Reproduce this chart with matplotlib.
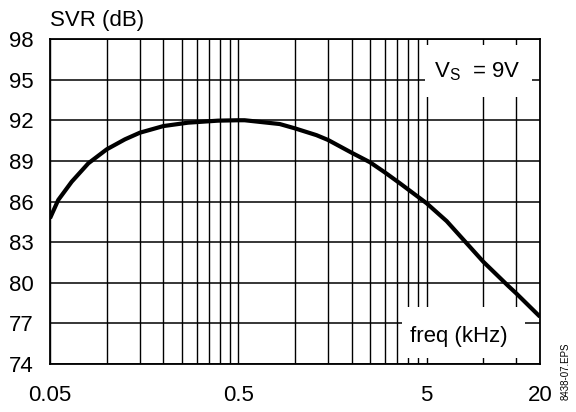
"""SVR vs frequency curve (Vs = 9V)."""
import matplotlib
matplotlib.use("Agg")
import matplotlib.pyplot as plt
from matplotlib.ticker import NullLocator

plt.rcParams["font.family"] = ["Liberation Sans", "DejaVu Sans"]

# curve
freq_khz = [0.05, 0.0553, 0.0652, 0.0799, 0.1, 0.125, 0.15, 0.2, 0.27, 0.39,
            0.5, 0.54, 0.83, 1.0, 1.3, 1.5, 2.0, 2.5, 3.0, 3.61,
            5.0, 6.39, 10.0, 13.6, 15.0, 20.0]
svr_db = [84.76, 86.11, 87.46, 88.82, 89.85, 90.59, 91.08, 91.57, 91.82, 91.97,
          92.0, 92.0, 91.72, 91.40, 90.9, 90.54, 89.6, 88.9, 88.15, 87.34,
          85.87, 84.55, 81.55, 79.75, 79.2, 77.49]

y_ticks = [74, 77, 80, 83, 86, 89, 92, 95, 98]
x_ticks = [0.05, 0.5, 5, 20]
x_tick_labels = ["0.05", "0.5", "5", "20"]
# vertical grid: 1..10 steps inside each decade starting at 0.05
x_grid = ([0.05 * k for k in range(1, 11)] + [0.5 * k for k in range(2, 11)]
          + [5 * k for k in range(2, 5)])

W, H = 576, 412


def fx(px):
    return px / W


def fy(py):
    return (H - py) / H


fig = plt.figure(figsize=(5.76, 4.12), dpi=100)
ax = fig.add_axes([fx(50), fy(364), 490 / W, 325 / H])
ax.set_xscale("log")
ax.set_xlim(0.05, 20)
ax.set_ylim(74, 98)

for xg in x_grid:
    ax.axvline(xg, color="black", lw=1.0, zorder=1)
for yg in y_ticks:
    ax.axhline(yg, color="black", lw=1.1, zorder=1)

ax.plot(freq_khz, svr_db, color="black", lw=3, solid_capstyle="butt",
        solid_joinstyle="round", zorder=3)

ax.set_yticks(y_ticks)
ax.set_yticklabels([str(v) for v in y_ticks])
ax.set_xticks(x_ticks)
ax.set_xticklabels(x_tick_labels)
ax.xaxis.set_minor_locator(NullLocator())
ax.tick_params(axis="both", length=0, labelsize=16)
ax.tick_params(axis="y", pad=12)
ax.tick_params(axis="x", pad=15)
for s in ax.spines.values():
    s.set_linewidth(1.3)

# white patches behind the two in-plot labels
ax.add_patch(plt.Rectangle((fx(425), fy(97)), 107 / W, 52 / H, transform=fig.transFigure,
                           facecolor="white", edgecolor="none", zorder=2))
ax.add_patch(plt.Rectangle((fx(402), fy(358)), 123 / W, 51 / H, transform=fig.transFigure,
                           facecolor="white", edgecolor="none", zorder=2))
fig.text(fx(434), fy(77), r"V$_\mathregular{S}$  = 9V", fontsize=16,
         ha="left", va="baseline", zorder=4)
fig.text(fx(410), fy(342), "freq (kHz)", fontsize=16,
         ha="left", va="baseline", zorder=4)

fig.text(fx(50), fy(26), "SVR (dB)", fontsize=16, ha="left", va="baseline")
fig.text(fx(566), fy(371), "8438-07.EPS", fontsize=7, rotation=90,
         ha="center", va="center")

fig.savefig("out.png", dpi=100)
